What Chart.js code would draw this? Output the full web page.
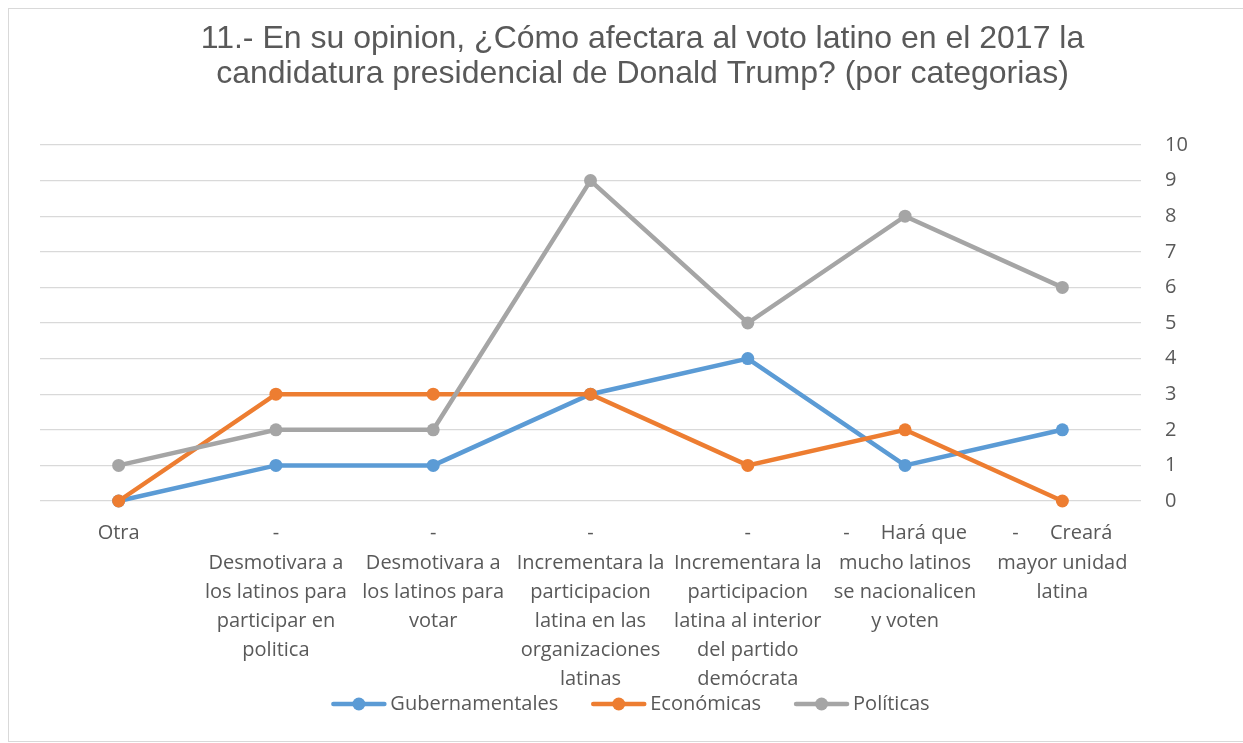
<!DOCTYPE html>
<html lang="es">
<head>
    <meta charset="UTF-8">
    <meta name="viewport" content="width=device-width, initial-scale=1.0">
    <title>Voto latino 2017 - por categorias</title>
    <script src="https://cdn.jsdelivr.net/npm/chart.js"></script>
    <style>
        html, body {
            margin: 0;
            padding: 0;
            background: #fff;
            overflow: hidden;
        }
        .chart-box {
            position: absolute;
            left: 8px;
            top: 8px;
            width: 1238px;
            height: 734px;
            border: 1px solid #D9D9D9;
            box-sizing: border-box;
        }
    </style>
</head>
<body>
    <div class="chart-box">
        <canvas id="votoChart"></canvas>
    </div>

    <script>
        // categorias (cada una partida en lineas como en la imagen)
        const categorias = [
            ['Otra'],
            ['-', 'Desmotivara a', 'los latinos para', 'participar en', 'politica'],
            ['-', 'Desmotivara a', 'los latinos para', 'votar'],
            ['-', 'Incrementara la', 'participacion', 'latina en las', 'organizaciones', 'latinas'],
            ['-', 'Incrementara la', 'participacion', 'latina al interior', 'del partido', 'demócrata'],
            ['-      Hará que', 'mucho latinos', 'se nacionalicen', 'y voten'],
            ['-      Creará', 'mayor unidad', 'latina']
        ];

        const series = ['Gubernamentales', 'Económicas', 'Políticas'];
        const gubernamentales = [0, 1, 1, 3, 4, 1, 2];
        const economicas = [0, 3, 3, 3, 1, 2, 0];
        const politicas = [1, 2, 2, 9, 5, 8, 6];

        const titulo = [
            '11.- En su opinion, ¿Cómo afectara al voto latino en el 2017 la',
            'candidatura presidencial de Donald Trump? (por categorias)'
        ];

        const colores = ['#5B9BD5', '#ED7D31', '#A5A5A5'];
        const textoGris = '#595959';

        // leyenda dibujada a mano: linea con punto, como en Excel
        const leyendaPlugin = {
            id: 'leyenda',
            afterDraw(chart) {
                const ctx = chart.ctx;
                const y = 695;
                const marca = 55, hueco = 4, separacion = 33;
                ctx.save();
                ctx.font = '20px "Open Sans"';
                const anchos = chart.data.datasets.map(ds => marca + hueco + ctx.measureText(ds.label).width);
                const total = anchos.reduce((a, b) => a + b, 0) + separacion * (anchos.length - 1);
                let x = 621.5 - total / 2;
                chart.data.datasets.forEach((ds, i) => {
                    ctx.strokeStyle = ds.borderColor;
                    ctx.lineWidth = 4.5;
                    ctx.lineCap = 'round';
                    ctx.beginPath();
                    ctx.moveTo(x + 2, y);
                    ctx.lineTo(x + marca - 2, y);
                    ctx.stroke();
                    ctx.fillStyle = ds.borderColor;
                    ctx.beginPath();
                    ctx.arc(x + marca / 2, y, 6.5, 0, Math.PI * 2);
                    ctx.fill();
                    ctx.fillStyle = textoGris;
                    ctx.textBaseline = 'middle';
                    ctx.textAlign = 'left';
                    ctx.fillText(ds.label, x + marca + hueco, y);
                    x += anchos[i] + separacion;
                });
                ctx.restore();
            }
        };

        function serie(nombre, datos, color, orden) {
            return {
                label: nombre,
                data: datos,
                borderColor: color,
                backgroundColor: color,
                pointBackgroundColor: color,
                pointBorderWidth: 0,
                pointRadius: 6.5,
                borderWidth: 4.5,
                tension: 0,
                clip: false,
                order: orden
            };
        }

        const fuenteEje = { family: 'Open Sans', size: 20, lineHeight: 1.46 };

        new Chart(document.getElementById('votoChart'), {
            type: 'line',
            data: {
                labels: categorias,
                datasets: [
                    serie(series[0], gubernamentales, colores[0], 2),
                    serie(series[1], economicas, colores[1], 1),
                    serie(series[2], politicas, colores[2], 0)
                ]
            },
            options: {
                responsive: true,
                maintainAspectRatio: false,
                animation: false,
                layout: {
                    padding: { left: 31, right: 0, top: 0, bottom: 50 }
                },
                plugins: {
                    legend: { display: false },
                    tooltip: { enabled: false },
                    title: {
                        display: true,
                        text: titulo,
                        color: textoGris,
                        font: { family: 'Liberation Sans', size: 32, weight: 'normal', lineHeight: 1.1 },
                        padding: { top: 12.4, bottom: 53.2 }
                    }
                },
                scales: {
                    x: {
                        offset: true,
                        grid: { display: false, drawTicks: false },
                        border: { display: false },
                        ticks: {
                            color: textoGris,
                            font: fuenteEje,
                            padding: 18,
                            maxRotation: 0,
                            minRotation: 0,
                            autoSkip: false
                        },
                        afterFit(scale) { scale.height = 190; }
                    },
                    y: {
                        position: 'right',
                        min: 0,
                        max: 10,
                        grid: { color: '#D9D9D9', lineWidth: 1.3, drawTicks: false },
                        border: { display: false },
                        ticks: {
                            stepSize: 1,
                            color: textoGris,
                            font: fuenteEje,
                            padding: 24
                        },
                        afterFit(scale) { scale.width = 104; }
                    }
                }
            },
            plugins: [leyendaPlugin]
        });
    </script>
</body>
</html>
